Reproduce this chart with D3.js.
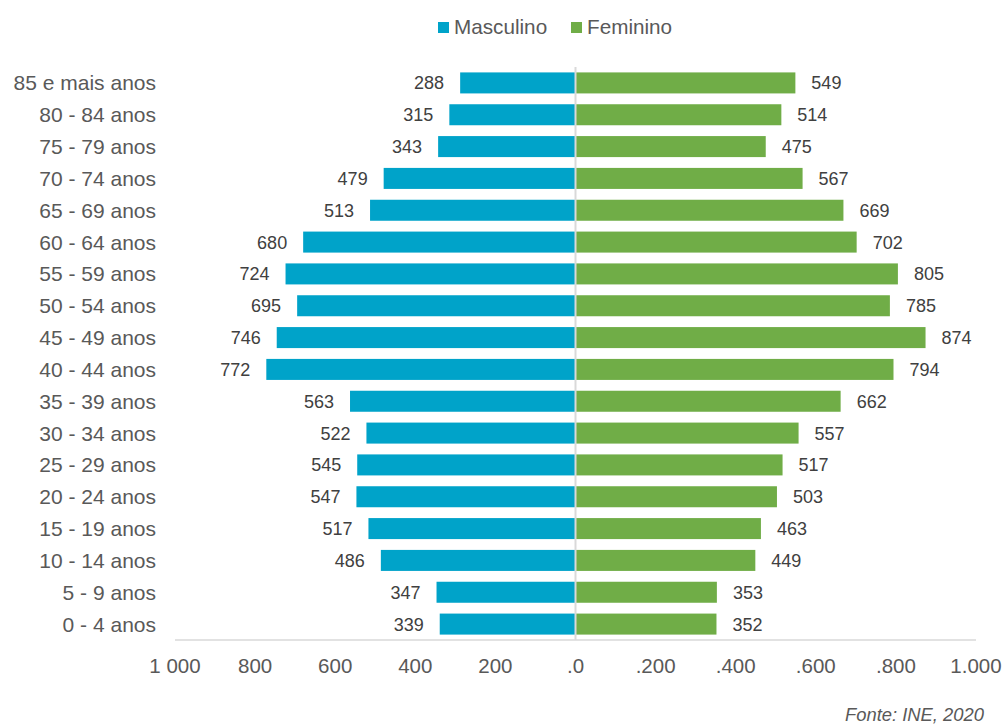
<!DOCTYPE html>
<html>
<head>
<meta charset="utf-8">
<script src="https://cdn.jsdelivr.net/npm/d3@7"></script>
<style>
  body { margin: 0; background: #fff; }
  text { font-family: "Liberation Sans", Arial, sans-serif; }
</style>
</head>
<body>
<div id="chart"></div>
<script>
// DATA //
let ageGroups = ["85 e mais anos", "80 - 84 anos", "75 - 79 anos", "70 - 74 anos", "65 - 69 anos",
  "60 - 64 anos", "55 - 59 anos", "50 - 54 anos", "45 - 49 anos", "40 - 44 anos", "35 - 39 anos",
  "30 - 34 anos", "25 - 29 anos", "20 - 24 anos", "15 - 19 anos", "10 - 14 anos", "5 - 9 anos", "0 - 4 anos"];
let masculino = [288, 315, 343, 479, 513, 680, 724, 695, 746, 772, 563, 522, 545, 547, 517, 486, 347, 339];
let feminino = [549, 514, 475, 567, 669, 702, 805, 785, 874, 794, 662, 557, 517, 503, 463, 449, 353, 352];
let tickValues = [-1000, -800, -600, -400, -200, 0, 200, 400, 600, 800, 1000];
let tickLabels = ["1 000", "800", "600", "400", "200", ".0", ".200", ".400", ".600", ".800", "1.000"];
let seriesNames = ["Masculino", "Feminino"];
let colors = ["#00A3C9", "#70AD47"];

// DIMENSIONS //
let width = 1003, height = 724;
let svg = d3.select("#chart").append("svg")
  .attr("width", width)
  .attr("height", height);

let x = d3.scaleLinear().domain([-1000, 1000]).range([175, 976]);
let y = d3.scaleBand().domain(ageGroups).range([67, 640]).paddingInner(0.34).paddingOuter(0.17);

let textColor = "#595959";

// axis line
svg.append("line")
  .attr("x1", x(-1000)).attr("x2", x(1000))
  .attr("y1", 640).attr("y2", 640)
  .attr("stroke", "#d9d9d9").attr("stroke-width", 1.5);

// BARS //
svg.selectAll(".male").data(ageGroups).join("rect")
  .attr("x", (d, i) => x(-masculino[i]))
  .attr("y", d => y(d))
  .attr("width", (d, i) => x(0) - x(-masculino[i]))
  .attr("height", y.bandwidth())
  .attr("fill", colors[0]);

svg.selectAll(".female").data(ageGroups).join("rect")
  .attr("x", x(0))
  .attr("y", d => y(d))
  .attr("width", (d, i) => x(feminino[i]) - x(0))
  .attr("height", y.bandwidth())
  .attr("fill", colors[1]);

// center line
svg.append("line")
  .attr("x1", x(0)).attr("x2", x(0))
  .attr("y1", 67).attr("y2", 640)
  .attr("stroke", "#d9d9d9").attr("stroke-width", 2);

// VALUE LABELS //
svg.selectAll(".mlab").data(ageGroups).join("text")
  .attr("x", (d, i) => x(-masculino[i]) - 16)
  .attr("y", d => y(d) + y.bandwidth() / 2)
  .attr("dy", "0.36em")
  .attr("text-anchor", "end")
  .attr("font-size", 18)
  .attr("fill", "#404040")
  .text((d, i) => masculino[i]);

svg.selectAll(".flab").data(ageGroups).join("text")
  .attr("x", (d, i) => x(feminino[i]) + 16)
  .attr("y", d => y(d) + y.bandwidth() / 2)
  .attr("dy", "0.36em")
  .attr("font-size", 18)
  .attr("fill", "#404040")
  .text((d, i) => feminino[i]);

// CATEGORY LABELS //
svg.selectAll(".cat").data(ageGroups).join("text")
  .attr("x", 156)
  .attr("y", d => y(d) + y.bandwidth() / 2)
  .attr("dy", "0.36em")
  .attr("text-anchor", "end")
  .attr("font-size", 21)
  .attr("fill", textColor)
  .text(d => d);

// X TICKS //
svg.selectAll(".tick").data(tickValues).join("text")
  .attr("x", d => x(d))
  .attr("y", 673)
  .attr("text-anchor", "middle")
  .attr("font-size", 20.5)
  .attr("fill", textColor)
  .text((d, i) => tickLabels[i]);

// LEGEND //
let legendX = [438, 571];
seriesNames.forEach((name, i) => {
  svg.append("rect")
    .attr("x", legendX[i]).attr("y", 22)
    .attr("width", 11).attr("height", 11)
    .attr("fill", colors[i]);
  svg.append("text")
    .attr("x", legendX[i] + 16).attr("y", 34)
    .attr("font-size", 20.7)
    .attr("fill", textColor)
    .text(name);
});

// SOURCE //
svg.append("text")
  .attr("x", 984).attr("y", 721)
  .attr("text-anchor", "end")
  .attr("font-size", 18.4)
  .attr("font-style", "italic")
  .attr("fill", textColor)
  .text("Fonte: INE, 2020");
</script>
</body>
</html>
